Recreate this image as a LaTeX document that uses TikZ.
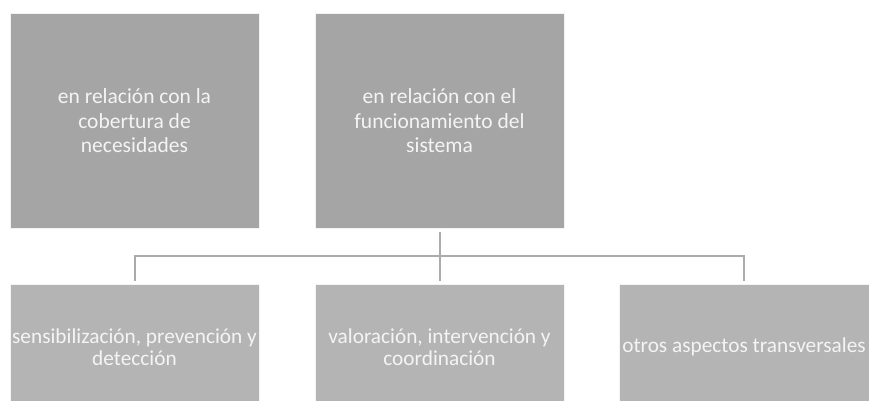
\documentclass[tikz,border=0pt]{standalone}
\usepackage{fontspec}
\setmainfont{Carlito}
\definecolor{topfill}{HTML}{A5A5A5}
\definecolor{botfill}{HTML}{B4B4B4}
\definecolor{linecol}{HTML}{ABABAB}
\definecolor{txtcol}{HTML}{F4F4F4}
\begin{document}
\begin{tikzpicture}[x=1pt,y=-1pt,
  topbox/.style={fill=topfill,draw=white!85!topfill,line width=0.6pt,minimum width=249pt,minimum height=215pt,inner sep=0pt,anchor=north west},
  botbox/.style={fill=botfill,draw=white!85!botfill,line width=0.6pt,minimum width=249pt,minimum height=124pt,inner sep=0pt,anchor=north west},
  toptext/.style={text=txtcol,align=center,inner sep=0pt,font=\fontsize{21.5}{24.5}\selectfont},
  bottext/.style={text=txtcol,align=center,inner sep=0pt,font=\fontsize{21.3}{21.5}\selectfont},
  conn/.style={draw=linecol,line width=2pt}]
\useasboundingbox (0,0) rectangle (869,400);
\node[topbox] (A) at (10,13) {};
\node[topbox] (B) at (315,13) {};
\node[botbox] (C) at (10,284) {};
\node[botbox] (D) at (315,284) {};
\node[botbox,minimum width=250pt] (E) at (619,284) {};
\node[toptext] (tA) at (134.5,121) {en relación con la\\cobertura de\\necesidades};
\node[toptext] (tB) at (439.5,121) {en relación con el\\funcionamiento del\\sistema};
\node[bottext] (tC) at (134.5,347) {sensibilización, prevención y\\detección};
\node[bottext] (tD) at (439.5,347) {valoración, intervención y\\coordinación};
\node[bottext] (tE) at (744,347) {otros aspectos transversales};
\coordinate (bus) at (439.5,256);
\draw[conn,shorten <=3pt,shorten >=3pt] (B.south) -- (D.north);
\draw[conn,shorten >=3pt] (bus) -| (C.north);
\draw[conn,shorten >=3pt] (bus) -| (E.north);
\end{tikzpicture}
\end{document}
